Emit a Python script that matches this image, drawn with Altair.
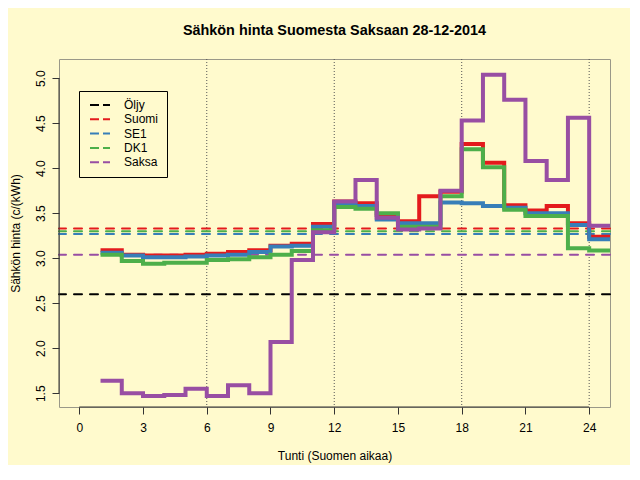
import altair as alt
import pandas as pd

# ---- data ----
hours = list(range(1, 25))
suomi = [3.09, 3.04, 3.03, 3.03, 3.04, 3.05, 3.07, 3.09, 3.14, 3.16, 3.38, 3.63,
         3.61, 3.48, 3.41, 3.69, 3.74, 4.27, 4.06, 3.59, 3.53, 3.58, 3.39, 3.24]
se1 = [3.06, 3.03, 3.01, 3.01, 3.02, 3.03, 3.04, 3.07, 3.13, 3.14, 3.35, 3.61,
       3.58, 3.43, 3.39, 3.39, 3.62, 3.61, 3.58, 3.56, 3.50, 3.50, 3.37, 3.21]
dk1 = [3.04, 2.97, 2.94, 2.95, 2.95, 2.98, 2.99, 3.01, 3.04, 3.08, 3.31, 3.57,
       3.55, 3.50, 3.35, 3.35, 3.69, 4.21, 4.01, 3.54, 3.47, 3.47, 3.11, 3.085]
saksa = [1.64, 1.50, 1.47, 1.48, 1.55, 1.47, 1.59, 1.50, 2.07, 2.98, 3.29, 3.63,
         3.87, 3.45, 3.32, 3.33, 3.75, 4.53, 5.04, 4.76, 4.08, 3.87, 4.56, 3.36]
series_names = ["Öljy", "Suomi", "SE1", "DK1", "Saksa"]
series_colors = ["#000000", "#E41A1C", "#377EB8", "#4DAF4A", "#984EA3"]
averages = [2.60, 3.33, 3.27, 3.30, 3.04]
x_ticks = [0, 3, 6, 9, 12, 15, 18, 21, 24]
y_ticks = [1.5, 2.0, 2.5, 3.0, 3.5, 4.0, 4.5, 5.0]
v_lines = [6, 12, 18, 24]

BG = "#FFFACD"
FONT = "Liberation Sans"
W, H = 551, 348
X_DOM = [-0.955, 24.98]
Y_DOM = [1.347, 5.214]

rows = []
for name, vals in [("Suomi", suomi), ("SE1", se1), ("DK1", dk1), ("Saksa", saksa)]:
    for i, (h, v) in enumerate(zip(hours + [25], vals + [vals[-1]])):
        rows.append({"series": name, "hour": h, "value": v, "idx": i})
steps_df = pd.DataFrame(rows)
avg_df = pd.DataFrame({"series": series_names, "avg": averages})
vl_df = pd.DataFrame({"x": v_lines})
xaxis_df = pd.DataFrame({"x": [x_ticks[0]], "x2": [x_ticks[-1]]})
yaxis_df = pd.DataFrame({"y": [y_ticks[0]], "y2": [y_ticks[-1]]})

xscale = alt.Scale(domain=X_DOM, nice=False, zero=False)
yscale = alt.Scale(domain=Y_DOM, nice=False, zero=False)
cscale = alt.Scale(domain=series_names, range=series_colors)

xaxis = alt.Axis(values=x_ticks, format="d", title="Tunti (Suomen aikaa)",
                 titleY=52, titleBaseline="alphabetic", labelPadding=8)
yaxis = alt.Axis(values=y_ticks, format=".1f", title="Sähkön hinta (c/(kWh)",
                 labelAngle=-90, labelAlign="center", labelBaseline="bottom",
                 labelPadding=5, titleAngle=-90, titleX=-40, titleY=H / 2,
                 titleAlign="center", titleBaseline="alphabetic")

legend = alt.Legend(title=None, orient="none", legendX=20, legendY=32,
                    padding=8, strokeColor="#000000", fillColor=BG,
                    symbolType="M-2,0H2", symbolSize=100, symbolStrokeWidth=2,
                    symbolDash=[9, 4], symbolOffset=7, labelOffset=18,
                    labelFontSize=12, labelFont=FONT, labelColor="#000000",
                    rowPadding=2.3, cornerRadius=0)

vrules = alt.Chart(vl_df).mark_rule(color="#555555", strokeDash=[1, 2], strokeWidth=1).encode(
    x=alt.X("x:Q", scale=xscale, axis=xaxis)
)

hrules = alt.Chart(avg_df).mark_rule(strokeDash=[8, 8], strokeWidth=2, strokeCap="round").encode(
    y=alt.Y("avg:Q", scale=yscale, axis=yaxis),
    color=alt.Color("series:N", scale=cscale, legend=legend, sort=series_names),
)

steps = alt.Chart(steps_df).mark_line(interpolate="step-after", strokeWidth=4, clip=True).encode(
    x=alt.X("hour:Q", scale=xscale, axis=xaxis),
    y=alt.Y("value:Q", scale=yscale, axis=yaxis),
    color=alt.Color("series:N", scale=cscale, legend=legend, sort=series_names),
    order="idx:Q",
)

xline = alt.Chart(xaxis_df).mark_rule(color="#333333", strokeWidth=1).encode(
    x=alt.X("x:Q", scale=xscale, axis=xaxis), x2="x2:Q", y=alt.value(H)
)
yline = alt.Chart(yaxis_df).mark_rule(color="#333333", strokeWidth=1).encode(
    y=alt.Y("y:Q", scale=yscale, axis=yaxis), y2="y2:Q", x=alt.value(0)
)

chart = alt.layer(vrules, hrules, steps, xline, yline).properties(
    width=W, height=H,
    title=alt.TitleParams("Sähkön hinta Suomesta Saksaan 28-12-2014", fontSize=14.4,
                          fontWeight="bold", font=FONT, anchor="middle", frame="group",
                          offset=9, baseline="alphabetic", color="#000000"),
    autosize=alt.AutoSizeParams(type="none"),
    padding={"left": 51, "top": 51, "right": 20, "bottom": 58},
    background=BG,
).configure(font=FONT).configure_view(
    fill=BG, stroke="#9A9888", strokeWidth=1
).configure_axis(
    domain=False, grid=False, tickColor="#333333", tickSize=7, tickWidth=1,
    labelFontSize=12, labelColor="#000000", labelFont=FONT,
    titleFontSize=12, titleFontWeight="normal", titleColor="#000000", titleFont=FONT,
)

chart.save("out.html", embed_options={"renderer": "svg", "actions": False})
